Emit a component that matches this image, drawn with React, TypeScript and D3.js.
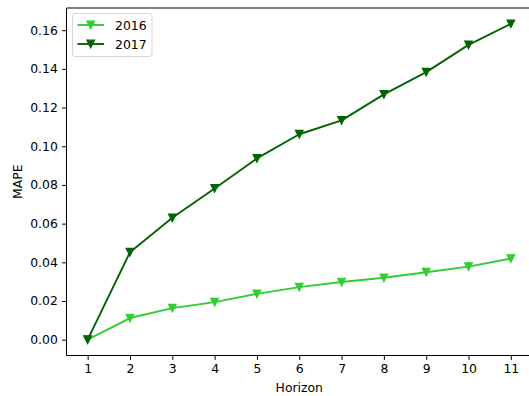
import React, { useEffect, useRef } from 'react';
import * as d3 from 'd3';

const horizons = [1, 2, 3, 4, 5, 6, 7, 8, 9, 10, 11];
const mape2016 = [0.0, 0.0112, 0.0163, 0.0194, 0.0237, 0.0272, 0.0298, 0.032, 0.0349, 0.0378, 0.0419];
const mape2017 = [0.0, 0.0452, 0.063, 0.0782, 0.0937, 0.1062, 0.1134, 0.1268, 0.1383, 0.1524, 0.1633];
const yTicks = [0.0, 0.02, 0.04, 0.06, 0.08, 0.1, 0.12, 0.14, 0.16];
const seriesNames = ['2016', '2017'];
const seriesColors = ['#32cd32', '#006400'];

const W = 529;
const H = 396;

export default function App() {
  const ref = useRef<SVGSVGElement>(null);

  useEffect(() => {
    const svg = d3.select(ref.current);
    svg.selectAll('*').remove();

    const margin = { left: 66.5, top: 8, right: 532, bottom: 355.5 };
    const font = 'DejaVu Sans, sans-serif';
    const fs = 12.4;

    const x = d3.scaleLinear().domain([0.5, 11.5]).range([margin.left, margin.right]);
    const yMax = d3.max(mape2017)!;
    const y = d3
      .scaleLinear()
      .domain([-0.05 * yMax, yMax * 1.05])
      .range([margin.bottom, margin.top]);

    const series = [mape2016, mape2017];

    const line = d3
      .line<number>()
      .x((_, i) => x(horizons[i]))
      .y(d => y(d));

    const ms = 7.6;
    const tri = `M0,${ms / 2}L${-ms / 2},${-ms / 2}L${ms / 2},${-ms / 2}Z`;

    series.forEach((vals, s) => {
      svg
        .append('path')
        .datum(vals)
        .attr('d', line)
        .attr('fill', 'none')
        .attr('stroke', seriesColors[s])
        .attr('stroke-width', 1.9)
        .attr('stroke-linejoin', 'round');
      svg
        .selectAll(null)
        .data(vals)
        .enter()
        .append('path')
        .attr('d', tri)
        .attr('transform', (d, i) => `translate(${x(horizons[i])},${y(d)})`)
        .attr('fill', seriesColors[s])
        .attr('stroke', seriesColors[s])
        .attr('stroke-width', 1.2)
        .attr('stroke-linejoin', 'miter');
    });

    // spines
    const spine = svg.append('g').attr('stroke', '#000').attr('stroke-width', 1);
    spine.append('line').attr('x1', margin.left).attr('x2', margin.left).attr('y1', margin.top).attr('y2', margin.bottom);
    spine.append('line').attr('x1', margin.left).attr('x2', margin.right).attr('y1', margin.bottom).attr('y2', margin.bottom);
    spine.append('line').attr('x1', margin.left).attr('x2', margin.right).attr('y1', margin.top).attr('y2', margin.top);
    spine.append('line').attr('x1', margin.right).attr('x2', margin.right).attr('y1', margin.top).attr('y2', margin.bottom);

    const xAxis = svg
      .append('g')
      .attr('transform', `translate(0,${margin.bottom})`)
      .call(
        d3
          .axisBottom(x)
          .tickValues(horizons)
          .tickFormat(d3.format('d'))
          .tickSize(4.4)
          .tickPadding(4.3)
      );
    xAxis.select('.domain').remove();
    xAxis.selectAll('text').attr('font-family', font).attr('font-size', fs).attr('fill', '#000');
    xAxis.selectAll('line').attr('stroke', '#000');

    const yAxis = svg
      .append('g')
      .attr('transform', `translate(${margin.left},0)`)
      .call(
        d3
          .axisLeft(y)
          .tickValues(yTicks)
          .tickFormat(d3.format('.2f'))
          .tickSize(4.4)
          .tickPadding(4.3)
      );
    yAxis.select('.domain').remove();
    yAxis.selectAll('text').attr('font-family', font).attr('font-size', fs).attr('fill', '#000');
    yAxis.selectAll('line').attr('stroke', '#000');

    svg
      .append('text')
      .attr('x', (margin.left + margin.right) / 2)
      .attr('y', 392)
      .attr('text-anchor', 'middle')
      .attr('font-family', font)
      .attr('font-size', fs)
      .text('Horizon');

    svg
      .append('text')
      .attr('transform', `translate(22,${(margin.top + margin.bottom) / 2}) rotate(-90)`)
      .attr('text-anchor', 'middle')
      .attr('font-family', font)
      .attr('font-size', fs)
      .text('MAPE');

    // legend
    const lg = svg.append('g');
    lg.append('rect')
      .attr('x', 72.5)
      .attr('y', 13.5)
      .attr('width', 79.5)
      .attr('height', 43)
      .attr('rx', 2.5)
      .attr('fill', '#fff')
      .attr('fill-opacity', 0.8)
      .attr('stroke', '#d6d6d6')
      .attr('stroke-width', 1);
    seriesNames.forEach((name, i) => {
      const cy = 25 + i * 19;
      lg.append('line')
        .attr('x1', 77.5)
        .attr('x2', 104)
        .attr('y1', cy)
        .attr('y2', cy)
        .attr('stroke', seriesColors[i])
        .attr('stroke-width', 1.9);
      lg.append('path')
        .attr('d', tri)
        .attr('transform', `translate(90.7,${cy})`)
        .attr('fill', seriesColors[i])
        .attr('stroke', seriesColors[i])
        .attr('stroke-width', 1.2);
      lg.append('text')
        .attr('x', 115)
        .attr('y', cy + 4.5)
        .attr('font-family', font)
        .attr('font-size', fs)
        .text(name);
    });
  }, []);

  return (
    <svg
      ref={ref}
      width={W}
      height={H}
      style={{ position: 'absolute', left: 0, top: 0, background: '#fff' }}
    />
  );
}
